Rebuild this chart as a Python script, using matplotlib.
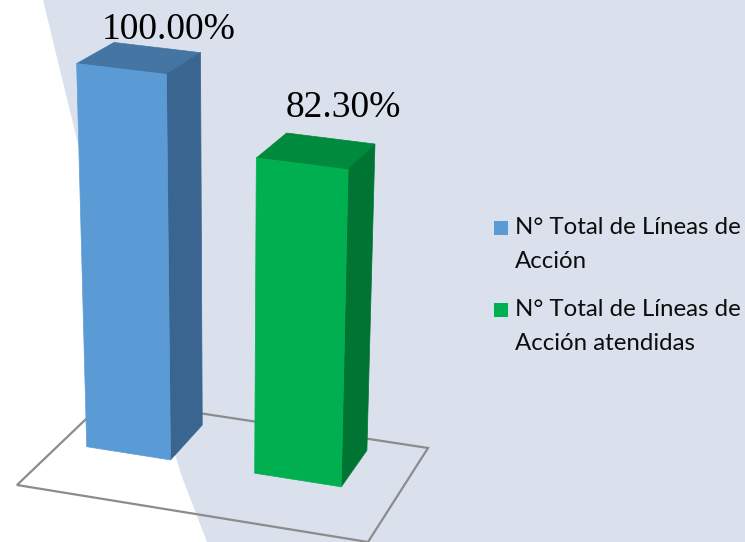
import numpy as np
import matplotlib
matplotlib.use("Agg")
import matplotlib.pyplot as plt
from matplotlib.patches import Polygon

# ---- data ----
categories = ["N° Total de Líneas de\nAcción", "N° Total de Líneas de\nAcción atendidas"]
values = [100.00, 82.30]
labels = ["100.00%", "82.30%"]

# ---- styles ----
front_colors = ["#5B9BD5", "#00B050"]
side_colors = ["#3A6590", "#007533"]
top_colors = ["#4475A3", "#008A3E"]
bg_color = "#DAE0EC"

W, H = 745, 542
fig = plt.figure(figsize=(W / 100, H / 100), dpi=100, facecolor=bg_color)
ax = fig.add_axes([0, 0, 1, 1])
ax.set_xlim(0, W)
ax.set_ylim(H, 0)
ax.axis("off")
ax.set_facecolor(bg_color)

# white decorative region on the left
ax.add_patch(Polygon([(0, 0), (43, 0), (60, 70), (77, 140), (130, 310),
                      (182, 477), (207, 542), (0, 542)],
                     closed=True, facecolor="white", edgecolor="none", zorder=0))

# ---- perspective projection (floor homography + vertical vanishing direction) ----
FL, FR, BR, BL = (17, 485), (368, 542), (428, 448), (107, 399)
x0, y0 = FL; x1, y1 = FR; x2, y2 = BR; x3, y3 = BL
dx1, dx2, dy1, dy2 = x1 - x2, x3 - x2, y1 - y2, y3 - y2
sx, sy = x0 - x1 + x2 - x3, y0 - y1 + y2 - y3
det = dx1 * dy2 - dx2 * dy1
g = (sx * dy2 - dx2 * sy) / det
h = (dx1 * sy - sx * dy1) / det
a = x1 - x0 + g * x1
b = x3 - x0 + h * x3
d = y1 - y0 + g * y1
e = y3 - y0 + h * y3
VP = (227.0, 5778.0)
k = -0.0007
P = np.array([[a, b, k * VP[0], x0],
              [d, e, k * VP[1], y0],
              [g, h, k, 1.0]])


def proj(u, v, z):
    p = P @ np.array([u, v, z, 1.0])
    return (p[0] / p[2], p[1] / p[2])


# floor outline
floor = [proj(0, 0, 0), proj(1, 0, 0), proj(1, 1, 0), proj(0, 1, 0)]
ax.add_patch(Polygon(floor, closed=True, facecolor="none", edgecolor="#8C8C8C",
                     linewidth=1.6, zorder=1))

centers = [0.205, 0.71]
width = 0.254
v0, v1 = 0.468, 0.876

for i, val in enumerate(values):
    u0, u1 = centers[i] - width / 2, centers[i] + width / 2
    front = [proj(u0, v0, 0), proj(u1, v0, 0), proj(u1, v0, val), proj(u0, v0, val)]
    side = [proj(u1, v0, 0), proj(u1, v1, 0), proj(u1, v1, val), proj(u1, v0, val)]
    top = [proj(u0, v0, val), proj(u1, v0, val), proj(u1, v1, val), proj(u0, v1, val)]
    for poly, col in ((top, top_colors[i]), (side, side_colors[i]), (front, front_colors[i])):
        ax.add_patch(Polygon(poly, closed=True, facecolor=col, edgecolor=col,
                             linewidth=0.5, zorder=2 + i))
    # value label above the bar (clamped to the chart area top)
    tx, ty = proj(u1, v1, val)
    ly = max(ty - 27, 39)
    ax.text(tx - 32, ly, labels[i], ha="center", va="baseline",
            fontsize=27, family="Liberation Serif", color="black", zorder=5)

# ---- legend ----
leg_y = [228, 310]
for i, cat in enumerate(categories):
    ax.add_patch(plt.Rectangle((494, leg_y[i] - 7), 14, 14, facecolor=front_colors[i],
                               edgecolor="none", zorder=5))
    lines = cat.split("\n")
    for j, line in enumerate(lines):
        ax.text(515, leg_y[i] + 34 * j, line, ha="left", va="center",
                fontsize=17.3, family="Lato", color="#0d0d0d", zorder=5)

fig.savefig("out.png", dpi=100, facecolor=bg_color)
